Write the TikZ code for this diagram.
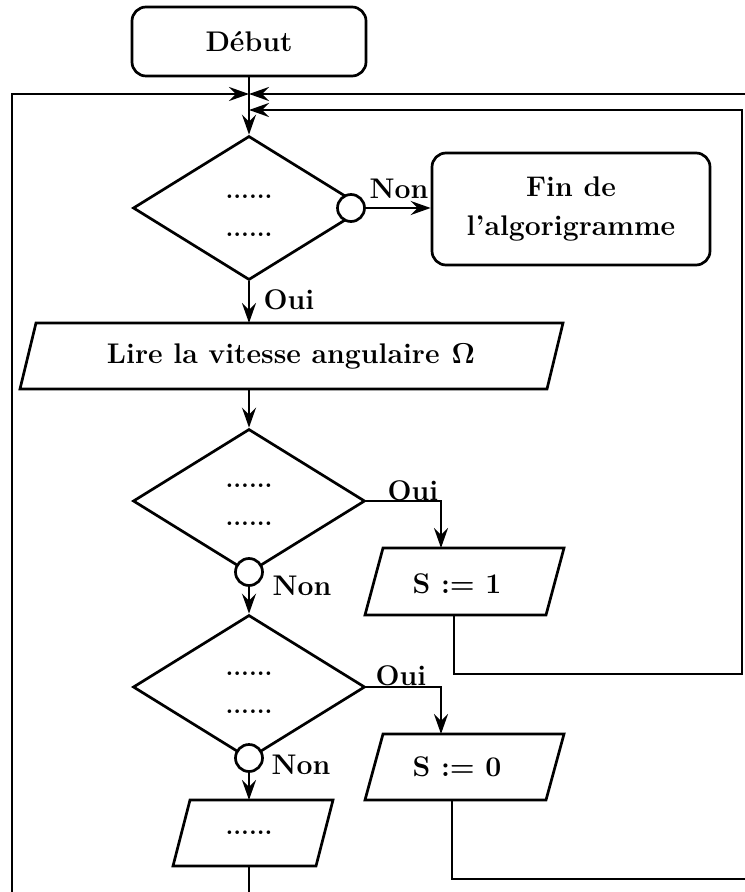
\documentclass[tikz,border=0pt]{standalone}
\usetikzlibrary{arrows.meta,shapes.geometric}
\begin{document}
\begin{tikzpicture}[x=0.5pt,y=-0.5pt,line width=1.35pt,line join=miter,
  every node/.style={font=\fontsize{14.2}{17}\selectfont\bfseries},
  arr/.style={-{Stealth[length=10pt,width=7pt,inset=3.5pt]}},
  termbox/.style={draw,rectangle,rounded corners=7pt,inner sep=0pt},
  dia/.style={draw,diamond,inner sep=0pt,minimum width=116pt,minimum height=72pt},
  circ/.style={draw,circle,fill=white,inner sep=0pt,minimum size=13.5pt},
  dotstxt/.style={inner sep=0pt,font=\fontsize{12.5}{14}\selectfont\bfseries},
  lbl/.style={inner sep=0pt}]
\useasboundingbox (0,0) rectangle (744,892);

% terminal boxes
\node[termbox,minimum width=117pt,minimum height=34.5pt] (debut) at (249,41.5) {Début};
\node[termbox,minimum width=139pt,minimum height=56pt,align=center,
      font=\fontsize{14.2}{19.5}\selectfont\bfseries] (fin) at (571,209) {Fin de\\l'algorigramme};

% decisions
\node[dia] (d1) at (249,208) {};
\node[dia] (d2) at (249,501) {};
\node[dia] (d3) at (249,687) {};
\node[dotstxt] (d1a) at (249,197) {......};
\node[dotstxt] (d1b) at (249,235) {......};
\node[dotstxt] (d2a) at (249,486) {......};
\node[dotstxt] (d2b) at (249,524) {......};
\node[dotstxt] (d3a) at (249,674) {......};
\node[dotstxt] (d3b) at (249,712) {......};
\node[circ] (c1) at (351,208) {};
\node[circ] (c2) at (249,572) {};
\node[circ] (c3) at (249,758) {};

% parallelograms
\draw (20,389) -- (36,323) -- (563,323) -- (547,389) -- cycle;
\node (lire) at (291,356) {Lire la vitesse angulaire\hspace{6pt}{\boldmath$\Omega$}};
\coordinate (lireN) at (249,323);
\coordinate (lireS) at (249,389);

\draw (365,615) -- (383,548) -- (564,548) -- (546,615) -- cycle;
\node (s1) at (457,584) {S := 1};
\coordinate (s1in) at (441,548);
\coordinate (s1out) at (454,615);

\draw (365,800) -- (383,734) -- (564,734) -- (546,800) -- cycle;
\node (s0) at (457,767) {S := 0};
\coordinate (s0in) at (441,734);
\coordinate (s0out) at (452,800);

\draw (173,866) -- (190,800) -- (333,800) -- (316,866) -- cycle;
\node[dotstxt] (bbt) at (249,833) {......};
\coordinate (bbN) at (249,800);
\coordinate (bbS) at (249,866);

% junction points and free ends
\coordinate (j1) at (249,94);
\coordinate (j2) at (249,110);
\coordinate (leftend) at (12,900);
\coordinate (rightend) at (760,94);
\coordinate (rightlow) at (760,879);
\coordinate (k1) at (742,674);
\coordinate (botend) at (249,900);

% connectors
\draw[arr] (debut.south) -- (d1.north);
\draw[arr] (leftend) |- (j1);
\draw[arr] (rightend) -- (j1);
\draw[arr] (s1out) |- (k1) |- (j2);
\draw (s0out) |- (rightlow);
\draw[arr] (c1.east) -- (c1.east -| fin.west);
\draw[arr] (d1.south) -- (lireN);
\draw[arr] (lireS) -- (d2.north);
\draw[arr] (d2.east) -| (s1in);
\draw[arr] (c2.south) -- (d3.north);
\draw[arr] (d3.east) -| (s0in);
\draw[arr] (c3.south) -- (bbN);
\draw (bbS) -- (botend);

% labels
\node[lbl] (l1) at (399,189) {Non};
\node[lbl] (l2) at (289,300) {Oui};
\node[lbl] (l3) at (413,491) {Oui};
\node[lbl] (l4) at (302,586) {Non};
\node[lbl] (l5) at (401,676) {Oui};
\node[lbl] (l6) at (301,765) {Non};
\end{tikzpicture}
\end{document}
